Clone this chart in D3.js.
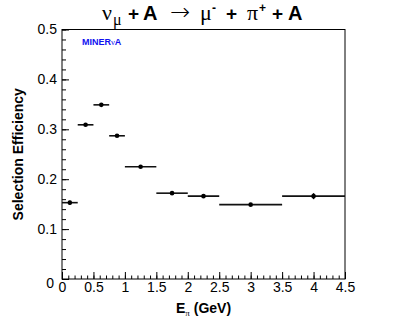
<!DOCTYPE html>
<html>
<head>
<meta charset="utf-8">
<script src="https://cdn.jsdelivr.net/npm/d3@7"></script>
<style>
  body { margin: 0; background: #fff; }
  svg { display: block; }
  text { font-family: "Liberation Sans", Arial, sans-serif; }
  .greek { font-family: "Liberation Serif", "DejaVu Serif", serif; font-weight: normal; }
  .arrow { font-family: "DejaVu Sans", sans-serif; font-weight: 200; }
</style>
</head>
<body>
<div id="chart"></div>
<script>
// bins in E_pi (GeV) and selection efficiency
const binLo = [0, 0.25, 0.5, 0.75, 1.0, 1.5, 2.0, 2.5, 3.5];
const binHi = [0.25, 0.5, 0.75, 1.0, 1.5, 2.0, 2.5, 3.5, 4.5];
const eff   = [0.153, 0.309, 0.349, 0.287, 0.225, 0.172, 0.166, 0.149, 0.166];
const effErr = [0.004, 0.002, 0.002, 0.002, 0.002, 0.002, 0.002, 0.002, 0.006];
const xTicks = [0, 0.5, 1, 1.5, 2, 2.5, 3, 3.5, 4, 4.5];
const yTicks = [0, 0.1, 0.2, 0.3, 0.4, 0.5];

const width = 407, height = 328,
  margin = { top: 29.5, right: 62, bottom: 49, left: 62 };

const data = binLo.map((lo, i) => ({ lo: lo, hi: binHi[i], y: eff[i], e: effErr[i] }));

const svg = d3.select("#chart").append("svg")
  .attr("width", width)
  .attr("height", height);

const xScale = d3.scaleLinear()
  .domain([0, 4.5])
  .range([margin.left, width - margin.right]);

const yScale = d3.scaleLinear()
  .domain([0, 0.5])
  .range([height - margin.bottom, margin.top]);

// minor ticks first
svg.append("g")
  .attr("transform", `translate(0,${height - margin.bottom})`)
  .call(d3.axisBottom(xScale).tickValues(d3.range(0, 4.501, 0.1)).tickSize(-3.5).tickFormat(""))
  .call(g => g.select(".domain").remove());

svg.append("g")
  .attr("transform", `translate(${margin.left},0)`)
  .call(d3.axisLeft(yScale).tickValues(d3.range(0, 0.501, 0.02)).tickSize(-4).tickFormat(""))
  .call(g => g.select(".domain").remove());

// major ticks with labels
const xAxis = svg.append("g")
  .attr("transform", `translate(0,${height - margin.bottom})`)
  .call(d3.axisBottom(xScale).tickValues(xTicks).tickSize(-7).tickSizeOuter(0).tickPadding(3)
    .tickFormat(d => d3.format("")(d)));
xAxis.selectAll("text").attr("font-size", 14).attr("fill", "#000")
  .style("font-family", "Liberation Sans, Arial, sans-serif");

const yAxis = svg.append("g")
  .attr("transform", `translate(${margin.left},0)`)
  .call(d3.axisLeft(yScale).tickValues(yTicks).tickSize(-7).tickSizeOuter(0).tickPadding(5)
    .tickFormat(d => d3.format("")(d)));
yAxis.selectAll("text").attr("font-size", 14).attr("fill", "#000")
  .style("font-family", "Liberation Sans, Arial, sans-serif");
// ROOT puts the y "0" label a little lower, at the corner
yAxis.selectAll(".tick").filter(d => d === 0).select("text")
  .attr("x", -8).attr("dy", "0.6em");

svg.selectAll(".tick line").attr("stroke", "#000");
svg.selectAll(".domain").remove();

// frame
svg.append("rect")
  .attr("x", xScale(0))
  .attr("y", yScale(0.5))
  .attr("width", xScale(4.5) - xScale(0))
  .attr("height", yScale(0) - yScale(0.5))
  .attr("fill", "none")
  .attr("stroke", "#000")
  .attr("stroke-width", 1);

// horizontal bin bars
svg.selectAll("line.hbar")
  .data(data)
  .join("line")
  .attr("class", "hbar")
  .attr("x1", d => xScale(d.lo))
  .attr("x2", d => xScale(d.hi))
  .attr("y1", d => yScale(d.y))
  .attr("y2", d => yScale(d.y))
  .attr("stroke", "#111")
  .attr("stroke-width", 1.6);

// vertical error bars
svg.selectAll("line.vbar")
  .data(data)
  .join("line")
  .attr("class", "vbar")
  .attr("x1", d => xScale((d.lo + d.hi) / 2))
  .attr("x2", d => xScale((d.lo + d.hi) / 2))
  .attr("y1", d => yScale(d.y - d.e))
  .attr("y2", d => yScale(d.y + d.e))
  .attr("stroke", "#000")
  .attr("stroke-width", 1.5);

svg.selectAll("circle.dot")
  .data(data)
  .join("circle")
  .attr("class", "dot")
  .attr("cx", d => xScale((d.lo + d.hi) / 2))
  .attr("cy", d => yScale(d.y))
  .attr("r", 2.3)
  .attr("fill", "#000");

// title, pieces placed like ROOT's TLatex spacing
const titleParts = [
  { t: "ν", x: 102, dy: 0, size: 22, cls: "greek" },
  { t: "μ", x: 113, dy: 5, size: 16, cls: "greek" },
  { t: "+", x: 128, dy: 0, size: 19 },
  { t: "A", x: 143, dy: 0, size: 20 },
  { t: "→", x: 170, dy: 0, size: 24, cls: "arrow" },
  { t: "μ", x: 200, dy: 0, size: 22, cls: "greek" },
  { t: "-", x: 212, dy: -8, size: 12 },
  { t: "+", x: 226, dy: 0, size: 19 },
  { t: "π", x: 247, dy: 0, size: 22, cls: "greek" },
  { t: "+", x: 259, dy: -8, size: 12 },
  { t: "+", x: 272, dy: 0, size: 19 },
  { t: "A", x: 288, dy: 0, size: 20 }
];
const title = svg.append("text")
  .attr("y", 20)
  .attr("font-weight", "bold");
titleParts.forEach(p => {
  title.append("tspan")
    .attr("class", p.cls || null)
    .attr("x", p.x)
    .attr("y", 20 + p.dy)
    .attr("font-size", p.size)
    .text(p.t);
});

// MINERvA label
const minerva = svg.append("text")
  .attr("x", 82)
  .attr("y", 44.5)
  .attr("font-size", 9)
  .attr("font-weight", "bold")
  .attr("fill", "#1010f0");
minerva.append("tspan").text("MINER");
minerva.append("tspan").attr("class", "greek").attr("font-size", 8.5).text("ν");
minerva.append("tspan").text("A");

// axis titles
svg.append("text")
  .attr("transform", `translate(23,${(yScale(0) + yScale(0.5)) / 2}) rotate(-90)`)
  .attr("text-anchor", "middle")
  .attr("font-size", 14)
  .attr("font-weight", "bold")
  .text("Selection Efficiency");

const xt = svg.append("text")
  .attr("x", (xScale(0) + xScale(4.5)) / 2)
  .attr("y", 313)
  .attr("text-anchor", "middle")
  .attr("font-size", 14)
  .attr("font-weight", "bold");
xt.append("tspan").text("E");
xt.append("tspan").attr("class", "greek").attr("font-size", 9).attr("dy", 3).text("π");
xt.append("tspan").attr("dy", -3).text(" (GeV)");
</script>
</body>
</html>
